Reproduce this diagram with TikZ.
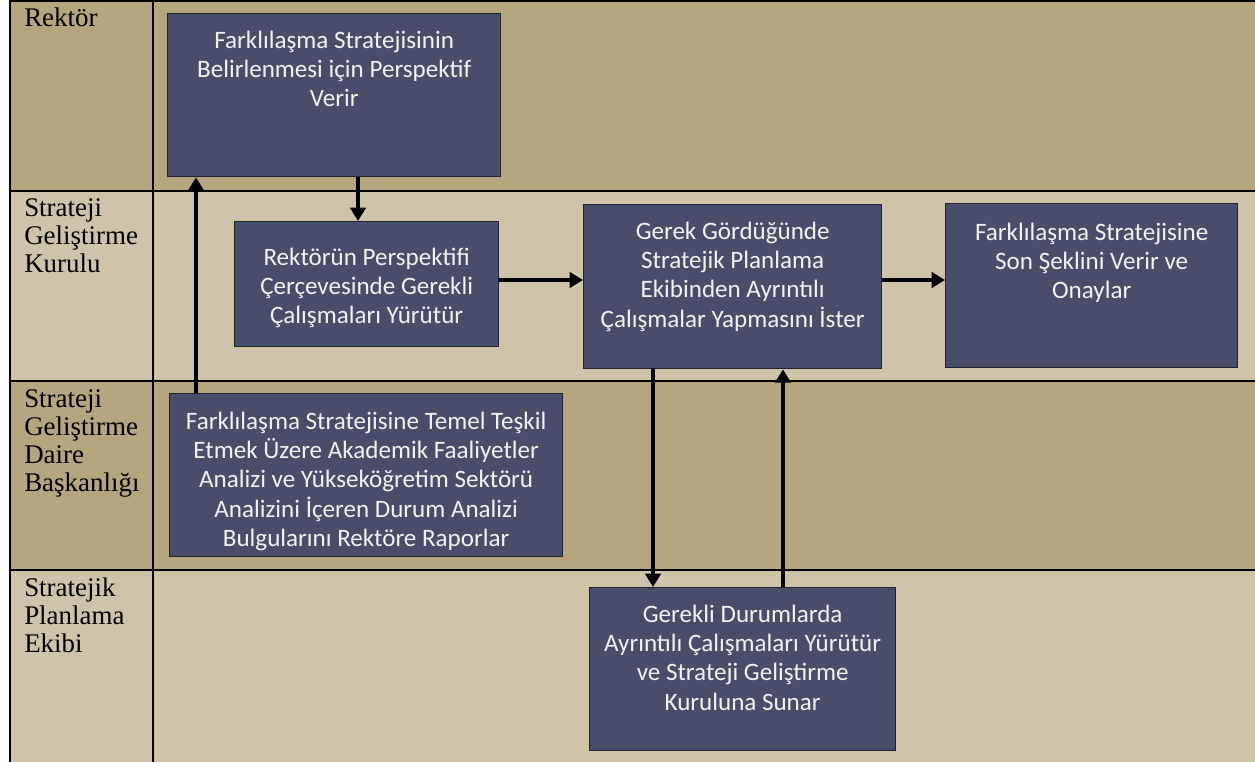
\documentclass[tikz,border=0pt]{standalone}
\usepackage{fontspec}
\setmainfont{Liberation Serif}
\newfontfamily\boxfont{Carlito}
\usetikzlibrary{arrows.meta,calc}

\definecolor{laneDark}{HTML}{B6A680}
\definecolor{laneLight}{HTML}{CFC3AA}
\definecolor{stepFill}{HTML}{4A4D69}
\definecolor{stepEdge}{HTML}{22222E}
\definecolor{stepText}{HTML}{F2F2F2}

% text block of a process box: width, height, gap to first baseline, lines
\newcommand\steptext[4]{\parbox[c][#2][t]{#1}{\centering\vspace*{\dimexpr#3-12pt\relax}\rule{0pt}{12pt}#4}}
% lane title, first baseline on the node's base anchor
\newcommand\lanetext[1]{\parbox[t]{100pt}{\raggedright #1}}

\tikzset{
  stepbox/.style={draw=stepEdge, line width=1pt, fill=stepFill, inner sep=0pt,
    anchor=north west, text=stepText,
    font=\boxfont\fontsize{18.8}{22}\selectfont},
  lanelabel/.style={inner sep=0pt, anchor=base west,
    font=\fontsize{20.2}{21}\selectfont},
  grid/.style={line width=2pt, black},
  flow/.style={line width=2.8pt, black,
    -{Triangle[width=11.5pt,length=10pt]}, shorten >=0pt},
}

\begin{document}
\begin{tikzpicture}[x=0.75pt, y=-0.75pt]
\useasboundingbox (0,0) rectangle (1255,762);

% swimlane bands
\fill[laneDark]  (10,1)   rectangle (1260,191);
\fill[laneLight] (10,191) rectangle (1260,381);
\fill[laneDark]  (10,381) rectangle (1260,570);
\fill[laneLight] (10,570) rectangle (1260,770);

% lane grid
\draw[grid] (1260,1) -- (10,1) -- (10,770);
\draw[grid] (153,1) -- (153,770);
\draw[grid] (10,191) -- (1260,191);
\draw[grid] (10,381) -- (1260,381);
\draw[grid] (10,570) -- (1260,570);

% lane titles
\node[lanelabel] (l1) at (24,27)  {\lanetext{Rektör}};
\node[lanelabel] (l2) at (24,217) {\lanetext{Strateji\\Geliştirme\\Kurulu}};
\node[lanelabel] (l3) at (24,407) {\lanetext{Strateji\\Geliştirme\\Daire\\Başkanlığı}};
\node[lanelabel] (l4) at (24,596) {\lanetext{Stratejik\\Planlama\\Ekibi}};

% process boxes
\node[stepbox] (A) at (167,13)
  {\steptext{249.75pt}{122.25pt}{24.75pt}{Farklılaşma Stratejisinin\\Belirlenmesi için Perspektif\\Verir}};
\node[stepbox] (B) at (234,221)
  {\steptext{198pt}{93.75pt}{31.5pt}{Rektörün Perspektifi\\Çerçevesinde Gerekli\\Çalışmaları Yürütür}};
\node[stepbox] (C) at (583,204)
  {\steptext{223.5pt}{123pt}{24.75pt}{Gerek Gördüğünde\\Stratejik Planlama\\Ekibinden Ayrıntılı\\Çalışmalar Yapmasını İster}};
\node[stepbox] (D) at (945,203)
  {\steptext{219pt}{123pt}{26.25pt}{Farklılaşma Stratejisine\\Son Şeklini Verir ve\\Onaylar}};
\node[stepbox] (E) at (169,393)
  {\steptext{294.75pt}{122.25pt}{25.5pt}{Farklılaşma Stratejisine Temel Teşkil\\Etmek Üzere Akademik Faaliyetler\\Analizi ve Yükseköğretim Sektörü\\Analizini İçeren Durum Analizi\\Bulgularını Rektöre Raporlar}};
\node[stepbox] (F) at (589,587)
  {\steptext{229.5pt}{122.25pt}{24.75pt}{Gerekli Durumlarda\\Ayrıntılı Çalışmaları Yürütür\\ve Strateji Geliştirme\\Kuruluna Sunar}};

% connector anchor points
\coordinate (e1) at ($(E.north west)+(27,0)$);
\coordinate (a1) at ($(A.south west)+(191,0)$);
\coordinate (b1) at ($(B.north east)+(0,59)$);
\coordinate (c1) at ($(C.south west)+(70,0)$);
\coordinate (f1) at ($(F.north west)+(194,0)$);

% flow
\draw[flow] (e1) -- (e1 |- A.south);
\draw[flow] (a1) -- (a1 |- B.north);
\draw[flow] (b1) -- (b1 -| C.west);
\draw[flow] (C.east |- b1) -- (D.west |- b1);
\draw[flow] (c1) -- (c1 |- F.north);
\draw[flow] (f1) -- (f1 |- C.south);
\end{tikzpicture}
\end{document}
